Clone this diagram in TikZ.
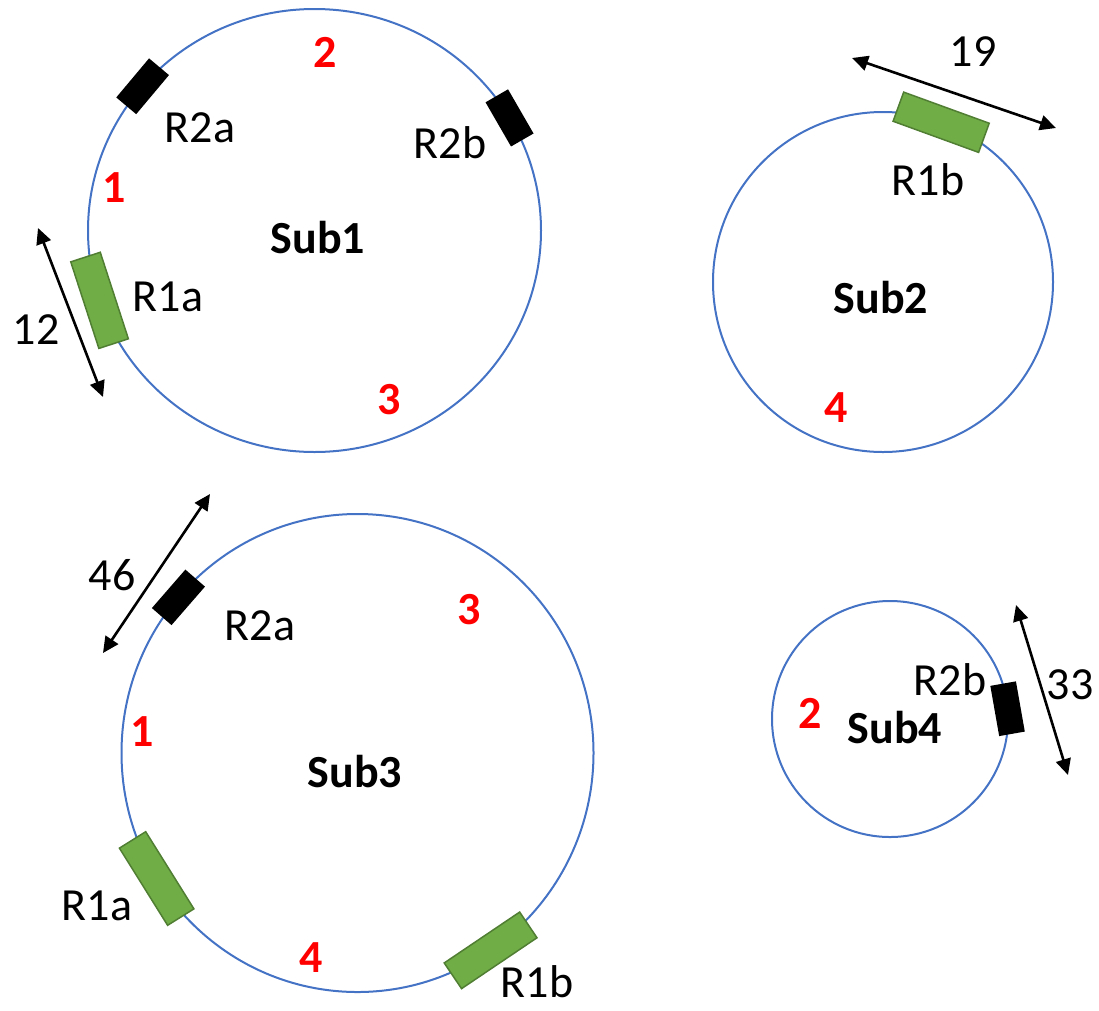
\documentclass[tikz,border=0pt]{standalone}
\usepackage{fontspec}
\setmainfont{Carlito}
\usetikzlibrary{arrows.meta,shapes.geometric}
\definecolor{ringblue}{HTML}{4472C4}
\definecolor{regfill}{HTML}{70AD47}
\definecolor{regedge}{HTML}{507E32}
\definecolor{numred}{HTML}{FF0000}
\begin{document}
\begin{tikzpicture}[x=1pt,y=-1pt,
  ring/.style 2 args={ellipse,draw=ringblue,line width=2pt,inner sep=0,outer sep=0,
    minimum width=#1,minimum height=#2},
  greenreg/.style={rectangle,draw=regedge,fill=regfill,line width=1.5pt,
    minimum width=91pt,minimum height=31pt,inner sep=0,rotate=#1},
  blackreg/.style={rectangle,fill=black,minimum width=51pt,minimum height=26pt,
    inner sep=0,rotate=#1},
  lbl/.style={font=\fontsize{46}{54}\selectfont,inner sep=0},
  subname/.style={font=\fontsize{46}{54}\selectfont\bfseries,inner sep=0},
  num/.style={subname,text=numred},
  dim/.style={{Triangle[length=16pt,width=15pt]}-{Triangle[length=16pt,width=15pt]},
    line width=2.6pt}]
\useasboundingbox (0,0) rectangle (1099,1010);

% the four rings
\node[ring={453pt}{443pt}] (s1) at (314.5,230.5) {};
\node[ring={340pt}{340pt}] (s2) at (883,282) {};
\node[ring={472pt}{478pt}] (s3) at (357.5,753) {};
\node[ring={236pt}{236pt}] (s4) at (890,719) {};

% Sub1
\node[blackreg=230] (s1r2a) at (s1.140) {};
\node[blackreg=120] (s1r2b) at (s1.30) {};
\node[greenreg=288] (s1r1a) at (s1.198) {};
\node[lbl] (t1r2a) at (200,128) {R2a};
\node[lbl] (t1r2b) at (450,143) {R2b};
\node[lbl] (t1r1a) at (168,297) {R1a};
\node[subname] (t1name) at (318,238) {Sub1};
\node[num] (t1n2) at (325,52) {2};
\node[num] (t1n1) at (114,188) {1};
\node[num] (t1n3) at (389,400) {3};
\coordinate (d12a) at (38,228);
\coordinate (d12b) at (103,397);
\draw[dim] (d12a) -- (d12b);
\node[lbl] (t12) at (36,330) {12};

% Sub2
\node[greenreg=160] (s2r1b) at (s2.70) {};
\node[lbl] (t2r1b) at (928,180) {R1b};
\node[subname] (t2name) at (881,298) {Sub2};
\node[num] (t2n4) at (836,408) {4};
\coordinate (d19a) at (852,58);
\coordinate (d19b) at (1056,128);
\draw[dim] (d19a) -- (d19b);
\node[lbl] (t19) at (973,52) {19};

% Sub3
\node[blackreg=229] (s3r2a) at (s3.139) {};
\node[greenreg=302] (s3r1a) at (s3.212) {};
\node[greenreg=34] (s3r1b) at (s3.-56) {};
\node[lbl] (t3r2a) at (260,626) {R2a};
\node[lbl] (t3r1a) at (97,906) {R1a};
\node[lbl] (t3r1b) at (537,982) {R1b};
\node[subname] (t3name) at (355,772) {Sub3};
\node[num] (t3n3) at (469,610) {3};
\node[num] (t3n1) at (142,732) {1};
\node[num] (t3n4) at (311,958) {4};
\coordinate (d46a) at (210,494);
\coordinate (d46b) at (103,653);
\draw[dim] (d46a) -- (d46b);
\node[lbl] (t46) at (112,575) {46};

% Sub4
\node[blackreg=100] (s4r2b) at (s4.5) {};
\node[lbl] (t4r2b) at (950,680) {R2b};
\node[subname] (t4name) at (895,728) {Sub4};
\node[num] (t4n2) at (810,713) {2};
\coordinate (d33a) at (1016,605);
\coordinate (d33b) at (1068,775);
\draw[dim] (d33a) -- (d33b);
\node[lbl] (t33) at (1070,685) {33};
\end{tikzpicture}
\end{document}
